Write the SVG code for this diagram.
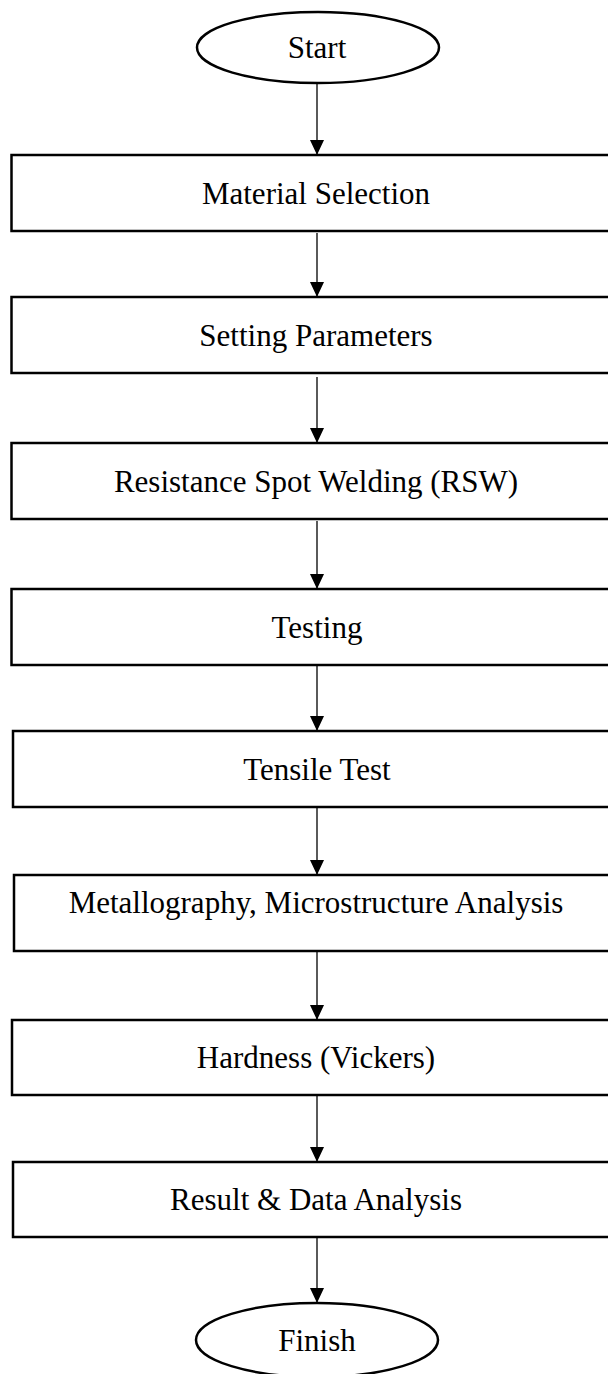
<svg xmlns="http://www.w3.org/2000/svg" width="608" height="1374" viewBox="0 0 608 1374">
<defs>
<style>
.n{fill:#fff;stroke:#000;stroke-width:2.5}
.t{font-family:"Liberation Serif","Times New Roman",serif;font-size:31px;fill:#000;text-anchor:middle}
.c{stroke:#000;stroke-width:1.3;fill:none;marker-end:url(#ah)}
</style>
<marker id="ah" markerWidth="15" markerHeight="14" refX="15" refY="7" orient="auto" markerUnits="userSpaceOnUse" viewBox="0 0 15 14">
<path d="M0,0 L15,7 L0,14 z" fill="#000"/>
</marker>
</defs>
<rect width="608" height="1374" fill="#fff"/>
<g id="connectors">
<path class="c" d="M317,84 V155"/>
<path class="c" d="M317,233 V297"/>
<path class="c" d="M317,377 V443"/>
<path class="c" d="M317,521 V589"/>
<path class="c" d="M317,666 V731"/>
<path class="c" d="M317,808 V875"/>
<path class="c" d="M317,952 V1020"/>
<path class="c" d="M317,1096 V1162"/>
<path class="c" d="M317,1238 V1303"/>
</g>
<g id="start"><ellipse class="n" cx="318" cy="47.5" rx="121" ry="35.5"/><text class="t" x="317" y="58">Start</text></g>
<g id="material"><rect class="n" x="11.5" y="155" width="620" height="76"/><text class="t" x="316" y="204">Material Selection</text></g>
<g id="parameters"><rect class="n" x="11.5" y="297" width="620" height="76"/><text class="t" x="316" y="346">Setting Parameters</text></g>
<g id="rsw"><rect class="n" x="11.5" y="443" width="620" height="76"/><text class="t" x="316" y="492">Resistance Spot Welding (RSW)</text></g>
<g id="testing"><rect class="n" x="11.5" y="589" width="620" height="76"/><text class="t" x="317" y="638">Testing</text></g>
<g id="tensile"><rect class="n" x="13" y="731" width="620" height="76"/><text class="t" x="317" y="780">Tensile Test</text></g>
<g id="metallography"><rect class="n" x="14" y="875" width="620" height="76"/><text class="t" x="316" y="913">Metallography, Microstructure Analysis</text></g>
<g id="hardness"><rect class="n" x="12" y="1020" width="620" height="75"/><text class="t" x="316" y="1068">Hardness (Vickers)</text></g>
<g id="result"><rect class="n" x="13" y="1162" width="620" height="75"/><text class="t" x="316" y="1210">Result &amp; Data Analysis</text></g>
<g id="finish"><ellipse class="n" cx="317" cy="1340" rx="121" ry="37"/><text class="t" x="317" y="1351">Finish</text></g>
</svg>
